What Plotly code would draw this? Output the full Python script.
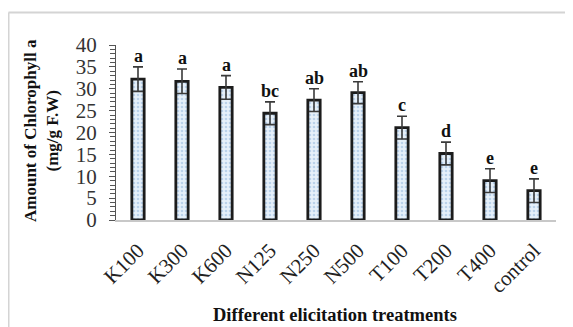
import plotly.graph_objects as go

categories = ["K100", "K300", "K600", "N125", "N250", "N500", "T100", "T200", "T400", "control"]
values = [32.2, 31.7, 30.3, 24.4, 27.4, 29.1, 21.1, 15.2, 9.0, 6.7]
errors = [2.8, 2.8, 2.7, 2.6, 2.6, 2.5, 2.6, 2.6, 2.7, 2.7]
letters = ["a", "a", "a", "bc", "ab", "ab", "c", "d", "e", "e"]
y_ticks = [0, 5, 10, 15, 20, 25, 30, 35, 40]

SERIF = "Liberation Serif, Times New Roman, serif"

fig = go.Figure()
fig.add_trace(go.Bar(
    x=categories, y=values, width=0.28,
    marker=dict(
        color="#e6f0fa",
        line=dict(color="#1c1c1c", width=2.8),
        pattern=dict(shape=".", fgcolor="#8fb3d9", bgcolor="#e6f0fa", size=4, solidity=0.35),
    ),
    error_y=dict(type="data", array=errors, symmetric=True, color="#3a3a3a", thickness=1.6, width=5),
    showlegend=False,
))

for c, v, e, t in zip(categories, values, errors, letters):
    fig.add_annotation(x=c, y=v + e, text="<b>%s</b>" % t, showarrow=False,
                       yanchor="bottom", yshift=-1,
                       font=dict(family=SERIF, size=18, color="#111"))

# y-axis title (two lines)
fig.add_annotation(xref="paper", yref="paper", x=(41 - 116) / 440, y=(220 - 131) / 175,
                   text="<b>Amount of Chlorophyll a<br>(mg/g F.W)</b>", textangle=-90,
                   showarrow=False, xanchor="center", yanchor="middle",
                   font=dict(family=SERIF, size=17, color="#111"))

# x-axis title
fig.add_annotation(xref="paper", yref="paper", x=(335 - 116) / 440, y=(220 - 315) / 175,
                   text="<b>Different elicitation treatments</b>",
                   showarrow=False, xanchor="center", yanchor="middle",
                   font=dict(family=SERIF, size=18.5, color="#111"))

# frame lines
top = (220 - 12.5) / 175
left = (8.5 - 116) / 440
fig.add_shape(type="line", xref="paper", yref="paper", x0=left, x1=(573 - 116) / 440, y0=top, y1=top,
              line=dict(color="#d4d4d4", width=2))
fig.add_shape(type="line", xref="paper", yref="paper", x0=left, x1=left, y0=top, y1=(220 - 327) / 175,
              line=dict(color="#d4d4d4", width=2))

# page body has an 8px margin, so the figure is 8px smaller and offset
fig.update_layout(
    width=565, height=319,
    margin=dict(l=108, r=17, t=37, b=107),
    paper_bgcolor="white", plot_bgcolor="white",
    xaxis=dict(
        automargin=False,
        tickangle=-45, tickfont=dict(family=SERIF, size=21, color="#222"),
        showline=True, linecolor="#c8c8c8", linewidth=2, ticks="", ticklabelstandoff=8,
    ),
    yaxis=dict(
        automargin=False,
        range=[0, 40], tickvals=y_ticks, showgrid=False, zeroline=False,
        tickfont=dict(family=SERIF, size=21, color="#333"),
        showline=True, linecolor="#555", linewidth=1,
        ticks="outside", ticklen=6, tickcolor="#555", ticklabelstandoff=8,
        minor=dict(dtick=1, ticks="outside", ticklen=5, tickcolor="#555", showgrid=False),
    ),
)

fig.write_html("out.html")
